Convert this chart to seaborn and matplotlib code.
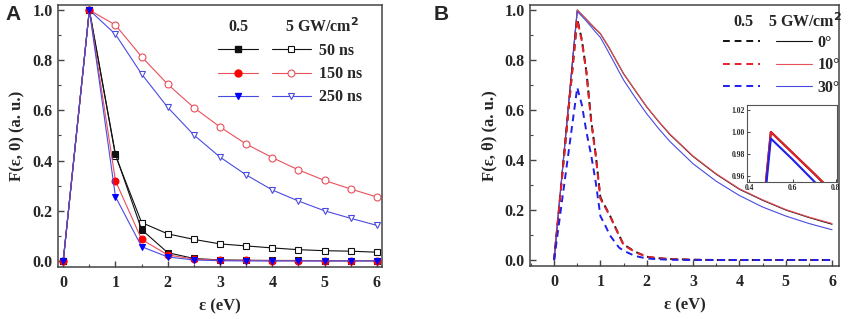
import matplotlib
matplotlib.use("Agg")
import matplotlib.pyplot as plt
from matplotlib.lines import Line2D
from matplotlib.ticker import MultipleLocator, FormatStrFormatter
import seaborn as sns

# ---- panel A data (symbols: 0.5 GW/cm2 filled, 5 GW/cm2 open) ----
eps_a = [0, 0.5, 1, 1.5, 2, 2.5, 3, 3.5, 4, 4.5, 5, 5.5, 6]
low_50ns = [0, 1.0, 0.425, 0.125, 0.033, 0.010, 0.004, 0.003, 0.002, 0.002, 0.001, 0.001, 0.001]
low_150ns = [0, 1.0, 0.319, 0.086, 0.024, 0.008, 0.003, 0.002, 0.001, 0.001, 0.001, 0.001, 0.001]
low_250ns = [0, 1.0, 0.256, 0.057, 0.016, 0.004, 0.001, 0.0, 0.0, 0.0, 0.0, 0.0, 0.0]
high_50ns = [0, 1.0, 0.42, 0.153, 0.108, 0.086, 0.068, 0.060, 0.052, 0.045, 0.041, 0.039, 0.035]
high_150ns = [0, 1.0, 0.940, 0.814, 0.704, 0.611, 0.534, 0.466, 0.412, 0.363, 0.321, 0.287, 0.255]
high_250ns = [0, 1.0, 0.903, 0.745, 0.612, 0.502, 0.414, 0.343, 0.283, 0.239, 0.200, 0.170, 0.142]
times = ["50 ns", "150 ns", "250 ns"]

# ---- panel B data (dashed: 0.5 GW/cm2, solid: 5 GW/cm2) ----
eps_b = [0, 0.5, 0.6, 0.7, 0.8, 0.9, 1.0, 1.1, 1.2, 1.3, 1.4, 1.5, 1.75, 2.0, 2.25, 2.5, 3.0, 3.5, 4.0, 4.5, 5.0, 5.5, 6.0]
low_0deg = [0, 0.965, 0.88, 0.75, 0.56, 0.42, 0.25, 0.215, 0.18, 0.14, 0.10, 0.062, 0.033, 0.013, 0.007, 0.004, 0.001, 0, 0, 0, 0, 0, 0]
low_10deg = [0, 0.962, 0.875, 0.745, 0.555, 0.415, 0.245, 0.212, 0.178, 0.138, 0.099, 0.060, 0.032, 0.013, 0.007, 0.004, 0.001, 0, 0, 0, 0, 0, 0]
low_30deg = [0, 0.69, 0.62, 0.51, 0.42, 0.31, 0.175, 0.14, 0.10, 0.075, 0.05, 0.037, 0.016, 0.006, 0.003, 0.001, 0, 0, 0, 0, 0, 0, 0]
high_0deg = [0, 1.0, 0.981, 0.962, 0.942, 0.923, 0.905, 0.875, 0.845, 0.811, 0.778, 0.745, 0.678, 0.612, 0.555, 0.502, 0.414, 0.343, 0.283, 0.239, 0.200, 0.170, 0.143]
high_10deg = [0, 1.0, 0.981, 0.962, 0.943, 0.924, 0.906, 0.876, 0.846, 0.812, 0.779, 0.746, 0.679, 0.613, 0.556, 0.504, 0.416, 0.345, 0.285, 0.241, 0.202, 0.172, 0.146]
high_30deg = [0, 0.994, 0.975, 0.955, 0.933, 0.911, 0.89, 0.857, 0.823, 0.789, 0.754, 0.72, 0.65, 0.585, 0.527, 0.474, 0.385, 0.315, 0.258, 0.212, 0.176, 0.146, 0.121]
angles = ["0\u00b0", "10\u00b0", "30\u00b0"]

BLACK, RED, BLUE = "#111111", "#e8202a", "#2020e8"
LRED, LBLUE = "#e8505a", "#4a4ae0"
TICK_FS, LABEL_FS, LEG_FS = 11.5, 12, 11.5
DASH = (0, (3.5, 2.5))

sns.set_style("ticks")
plt.rcParams["font.family"] = ["Liberation Serif", "DejaVu Serif"]
plt.rcParams["font.weight"] = "bold"
plt.rcParams["axes.labelweight"] = "bold"

W, H = 858, 319
fig = plt.figure(figsize=(W / 100, H / 100), dpi=100)
axA = fig.add_axes([58 / W, 1 - 267 / H, 324 / W, 262 / H])
axB = fig.add_axes([530 / W, 1 - 266 / H, 309 / W, 261 / H])


def style_axes(ax):
    for s in ax.spines.values():
        s.set_color("#444444")
        s.set_linewidth(1.1)
    ax.tick_params(which="both", direction="in", labelsize=TICK_FS, color="#444444")
    ax.tick_params(which="major", length=4, width=1)
    ax.tick_params(which="minor", length=2, width=0.8)
    ax.tick_params(axis="y", pad=4)
    ax.tick_params(axis="x", pad=6)
    ax.yaxis.set_major_locator(MultipleLocator(0.2))
    ax.yaxis.set_minor_locator(MultipleLocator(0.1))
    ax.xaxis.set_major_locator(MultipleLocator(1))
    ax.xaxis.set_minor_locator(MultipleLocator(0.5))
    ax.yaxis.set_major_formatter(FormatStrFormatter("%.1f"))
    for lab in ax.get_xticklabels() + ax.get_yticklabels():
        lab.set_fontweight("bold")


# ---- panel A ----
open_series = [(high_50ns, BLACK, "s"), (high_150ns, LRED, "o"), (high_250ns, LBLUE, "v")]
fill_series = [(low_50ns, BLACK, BLACK, "s"), (low_150ns, LRED, "#ff0000", "o"), (low_250ns, LBLUE, "#0000ff", "v")]
for vals, c, m in open_series:
    sns.lineplot(x=eps_a, y=vals, ax=axA, color=c, lw=0.8, marker=m, markersize=5,
                 markerfacecolor="white", markeredgecolor=c, markeredgewidth=0.8)
for vals, c, mc, m in fill_series:
    sns.lineplot(x=eps_a, y=vals, ax=axA, color=c, lw=0.8, marker=m, markersize=5,
                 markerfacecolor=mc, markeredgecolor=mc)
axA.set_xlim(-0.1, 6.1)
axA.set_ylim(-0.024, 1.02)
style_axes(axA)
axA.set_xlabel("\u03b5 (eV)", fontsize=LABEL_FS, labelpad=5)
axA.set_ylabel("F(\u03b5, 0) (a. u.)", fontsize=LABEL_FS, labelpad=5)

hA = [Line2D([], [], color=c, lw=0.8, marker=m, markersize=5, markerfacecolor=mc, markeredgecolor=mc)
      for _, c, mc, m in fill_series]
hA += [Line2D([], [], color=c, lw=0.8, marker=m, markersize=5, markerfacecolor="white",
              markeredgecolor=c, markeredgewidth=0.8) for _, c, m in open_series]
axA.legend(hA, ["", "", ""] + times, ncol=2, frameon=False, loc="upper left",
           bbox_to_anchor=(218 / W, 1 - 43 / H), bbox_transform=fig.transFigure,
           borderpad=0, borderaxespad=0, handlelength=2.5, handletextpad=0.5,
           columnspacing=0.35, labelspacing=0.45, prop={"size": LEG_FS, "weight": "bold"})
fig.text(238 / W, 1 - 27 / H, "0.5", ha="center", va="center", fontsize=LEG_FS, fontweight="bold")
fig.text(322 / W, 1 - 27 / H, "5 GW/cm$^\\mathbf{2}$", ha="center", va="center", fontsize=LEG_FS, fontweight="bold")

# ---- panel B ----
low_b = [(low_0deg, BLACK), (low_10deg, RED), (low_30deg, BLUE)]
high_b = [(high_0deg, BLACK), (high_10deg, LRED), (high_30deg, LBLUE)]
for vals, c in high_b:
    sns.lineplot(x=eps_b, y=vals, ax=axB, color=c, lw=0.8)
for vals, c in low_b:
    sns.lineplot(x=eps_b, y=vals, ax=axB, color=c, lw=1.4, linestyle=DASH)
axB.set_xlim(-0.52, 6.15)
axB.set_ylim(-0.024, 1.02)
style_axes(axB)
axB.set_xlabel("\u03b5 (eV)", fontsize=LABEL_FS, labelpad=5)
axB.set_ylabel("F(\u03b5, \u03b8) (a. u.)", fontsize=LABEL_FS, labelpad=5)

hB = [Line2D([], [], color=c, lw=1.4, linestyle=DASH) for _, c in low_b]
hB += [Line2D([], [], color=c, lw=0.8) for _, c in high_b]
axB.legend(hB, ["", "", ""] + angles, ncol=2, frameon=False, loc="upper left",
           bbox_to_anchor=(723 / W, 1 - 35 / H), bbox_transform=fig.transFigure,
           borderpad=0, borderaxespad=0, handlelength=2.3, handletextpad=0.3,
           columnspacing=0.7, labelspacing=0.4, prop={"size": LEG_FS, "weight": "bold"})
fig.text(743 / W, 1 - 22 / H, "0.5", ha="center", va="center", fontsize=LEG_FS, fontweight="bold")
fig.text(805 / W, 1 - 22 / H, "5 GW/cm$^\\mathbf{2}$", ha="center", va="center", fontsize=LEG_FS, fontweight="bold")

# inset zoom on the 5 GW/cm2 peak
axI = fig.add_axes([747 / W, 1 - 182 / H, 90 / W, 77 / H])
for vals, c in [(high_0deg, BLACK), (high_10deg, RED), (high_30deg, BLUE)]:
    sns.lineplot(x=eps_b, y=vals, ax=axI, color=c, lw=1.5)
axI.set_xlim(0.39, 0.805)
axI.set_ylim(0.9545, 1.0245)
axI.set_xticks([0.4, 0.6, 0.8])
axI.set_yticks([0.96, 0.98, 1.00, 1.02])
axI.yaxis.set_major_formatter(FormatStrFormatter("%.2f"))
axI.xaxis.set_major_formatter(FormatStrFormatter("%.1f"))
for s in axI.spines.values():
    s.set_color("#555555")
    s.set_linewidth(0.8)
axI.tick_params(direction="in", length=2, width=0.6, labelsize=5.5, pad=1.5)
for lab in axI.get_xticklabels() + axI.get_yticklabels():
    lab.set_fontweight("bold")

fig.text(5 / W, 1 - 14 / H, "A", fontsize=15, fontweight="bold", va="center",
         family=["Liberation Sans", "DejaVu Sans"])
fig.text(434 / W, 1 - 14 / H, "B", fontsize=15, fontweight="bold", va="center",
         family=["Liberation Sans", "DejaVu Sans"])

fig.savefig("out.png", dpi=100, facecolor="white")
